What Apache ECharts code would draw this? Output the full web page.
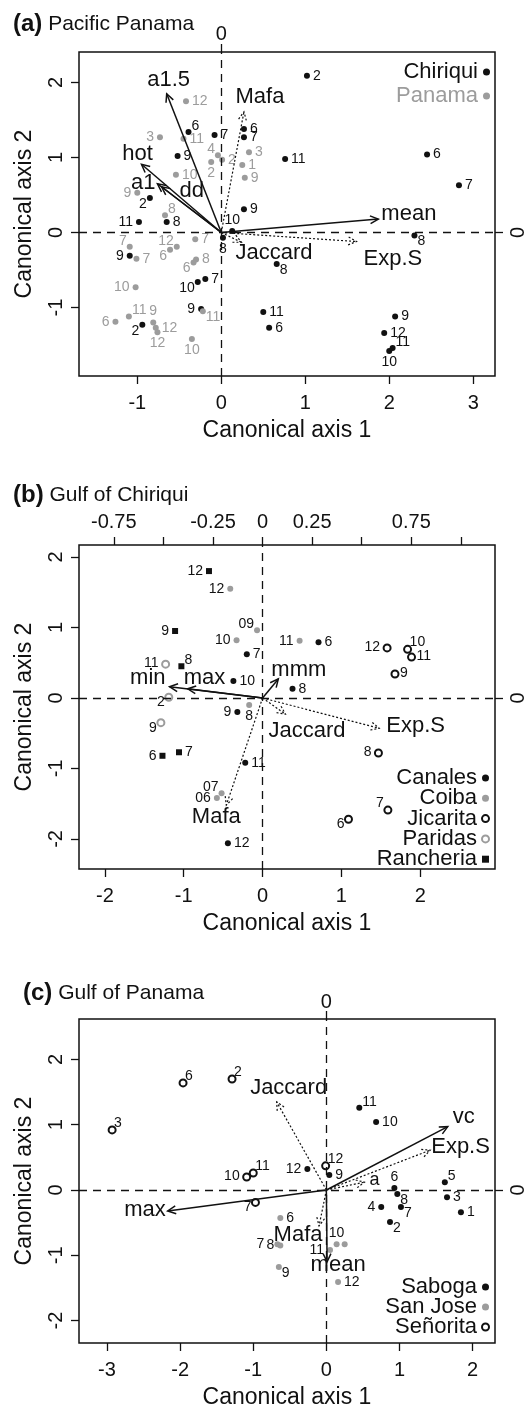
<!DOCTYPE html>
<html><head><meta charset="utf-8">
<script src="https://cdn.jsdelivr.net/npm/echarts@6/dist/echarts.min.js"></script>
<style>html,body{margin:0;padding:0;background:#fff}#c{width:528px;height:1412px}</style>
</head><body><div id="c"></div>
<script>
// ---------- Panel (a) Pacific Panama ----------
const aChiX = [1.02,-0.39,-0.08,-0.52,0.27,0.27,0.76,-0.85,0.27,-0.98,-0.65,0.13,0.02,-1.09,-0.28,-0.19,-0.24,-0.94,2.45,2.83,2.30,0.66,0.50,0.57,2.07,1.94,2.04,2.00];
const aChiY = [2.09,1.34,1.30,1.02,1.38,1.27,0.98,0.46,0.31,0.14,0.14,0.02,-0.07,-0.31,-0.66,-0.62,-1.02,-1.23,1.04,0.63,-0.04,-0.42,-1.06,-1.27,-1.12,-1.34,-1.54,-1.58];
const aChiM = ['2','6','7','9','6','7','11','2','9','11','8','10','8','9','10','7','9','2','6','7','8','8','11','6','9','12','11','10'];
const aPanX = [-0.42,-0.73,-0.45,-0.04,0.01,-0.12,-0.54,0.33,0.25,0.28,-1.00,-0.67,-1.09,-1.01,-0.53,-0.61,-0.31,-0.30,-0.33,-1.02,-0.22,-1.10,-1.26,-0.81,-0.78,-0.76,-0.35];
const aPanY = [1.75,1.27,1.25,1.03,0.97,0.94,0.77,1.07,0.90,0.73,0.53,0.23,-0.19,-0.35,-0.19,-0.23,-0.09,-0.36,-0.40,-0.73,-1.05,-1.12,-1.19,-1.20,-1.27,-1.33,-1.42];
const aPanM = ['12','3','11','4','2','2','10','3','1','9','9','8','7','7','12','6','7','8','6','10','11','11','6','9','12','12','10'];
const aArrowNames = ['a1.5','hot','a1','dd','mean','Mafa','Exp.S','Jaccard'];
const aArrowX = [-0.65,-0.95,-0.76,-0.71,1.87,0.27,1.61,0.24];
const aArrowY = [1.85,0.91,0.65,0.61,0.18,1.61,-0.12,-0.13];
const aArrowKind = ['solid','solid','solid','solid','solid','dotted','dotted','dotted'];
const aXTicks = [-1,0,1,2,3];
const aYTicks = [-1,0,1,2];

// ---------- Panel (b) Gulf of Chiriqui ----------
const bCanX = [0.71,-0.20,-0.37,0.38,-0.32,-0.22,-0.44];
const bCanY = [0.79,0.62,0.24,0.13,-0.20,-0.92,-2.06];
const bCanM = ['6','7','10','8','9','11','12'];
const bCoiX = [-0.41,-0.07,-0.33,0.47,-0.17,-0.52,-0.58];
const bCoiY = [1.55,0.96,0.82,0.81,-0.10,-1.35,-1.42];
const bCoiM = ['12','09','10','11','8','07','06'];
const bJicX = [1.58,1.84,1.89,1.68,1.47,1.59,1.09];
const bJicY = [0.71,0.69,0.58,0.34,-0.78,-1.59,-1.72];
const bJicM = ['12','10','11','9','8','7','6'];
const bParX = [-1.23,-1.19,-1.29];
const bParY = [0.48,0.01,-0.35];
const bParM = ['11','2','9'];
const bRanX = [-0.68,-1.11,-1.03,-1.27,-1.06];
const bRanY = [1.80,0.95,0.45,-0.82,-0.77];
const bRanM = ['12','9','8','6','7'];
const bArrowNames = ['min','max','mmm','Jaccard','Exp.S','Mafa'];
const bArrowX = [-1.18,-0.95,0.20,0.29,1.48,-0.46];
const bArrowY = [0.16,0.13,0.27,-0.23,-0.43,-1.52];
const bArrowKind = ['solid','solid','solid','dotted','dotted','dotted'];
const bXTicks = [-2,-1,0,1,2];
const bYTicks = [-2,-1,0,1,2];
const bTopTicks = [-0.75,-0.5,-0.25,0,0.25,0.5,0.75,1];
const bTopLabels = [-0.75,-0.25,0,0.25,0.75];

// ---------- Panel (c) Gulf of Panama ----------
const cSabX = [0.45,0.68,-0.26,0.04,1.62,0.93,0.97,1.65,0.75,1.02,1.84,0.87];
const cSabY = [1.26,1.04,0.32,0.23,0.12,0.03,-0.06,-0.11,-0.26,-0.26,-0.34,-0.49];
const cSabM = ['11','10','12','9','5','6','8','3','4','7','1','2'];
const cSjoX = [-0.63,-0.67,-0.63,0.05,0.14,0.25,-0.65,0.16];
const cSjoY = [-0.43,-0.83,-0.85,-0.92,-0.83,-0.83,-1.18,-1.41];
const cSjoM = ['6','7','8','11','10','','9','12'];
const cSenX = [-1.96,-1.29,-2.93,-0.01,-1.09,-1.00,-0.97];
const cSenY = [1.64,1.70,0.92,0.37,0.20,0.26,-0.19];
const cSenM = ['6','2','3','12','10','11','7'];
const cArrowNames = ['vc','max','mean','Jaccard','Exp.S','a','Mafa'];
const cArrowX = [1.66,-2.17,0.01,-0.68,1.42,0.52,-0.10];
const cArrowY = [0.97,-0.32,-1.10,1.35,0.61,0.12,-0.55];
const cArrowKind = ['solid','solid','solid','dotted','dotted','dotted','dotted'];
const cXTicks = [-3,-2,-1,0,1,2];
const cYTicks = [-2,-1,0,1,2];

// ---------- styling (label sides / offsets) ----------
const aChiSide = ['r','tr','r','r','r','r','r','bl','r','l','r','t','b','l','bl','r','l','bl','r','r','br','br','r','r','r','r','tr','b'];
const aPanSide = ['r','l','r','tl','r','b','r','r','r','r','l','tr','tl','r','tl','bl','r','r','bl','l','br','tr','l','t','r','b','b'];
const aArrowLab = [[2,-14,'center'],[-4,-10,'center'],[-2,-1,'right'],[30,4,'center'],[3,-5,'left'],[16,-15,'center'],[7,17,'left'],[-6,11,'left']];
const bCanSide = ['r','r','r','r','l','r','r'];
const bCoiSide = ['l','tl','l','l','b','tl','l'];
const bJicSide = ['l','tr','r','r','l','tl','bl'];
const bParSide = ['l','bl','bl'];
const bRanSide = ['l','l','tr','l','r'];
const bArrowLab = [[-4,-9,'right'],[-4,-11,'left'],[-7,-9,'left'],[-17,17,'left'],[7,-2,'left'],[-10,12,'center']];
const cSabSide = ['tr','r','l','r','tr','t','br','r','l','br','r','br'];
const cSjoSide = ['r','ll','l','l','t','r','br','r'];
const cSenSide = ['tr','tr','tr','tr','l','tr','bl'];
const cArrowLab = [[5,-10,'left'],[-2,-1,'right'],[11,3,'center'],[12,-14,'center'],[1,-3,'left'],[5,-2,'left',18],[-21,9,'center']];

const FONT = '"Liberation Sans", Arial, Helvetica, sans-serif';
const BLACK = '#111';
const GREY = '#9c9c9c';

function sideLabel(code, s) {
  const c = s / 2;
  const m = {
    r:  {position:[c+6, c], align:'left', verticalAlign:'middle'},
    l:  {position:[c-6, c], align:'right', verticalAlign:'middle'},
    ll: {position:[c-13, c], align:'right', verticalAlign:'middle'},
    t:  {position:[c, c-4], align:'center', verticalAlign:'bottom'},
    b:  {position:[c, c+4], align:'center', verticalAlign:'top'},
    tr: {position:[c+3, c+1], align:'left', verticalAlign:'bottom'},
    tl: {position:[c-3, c+1], align:'right', verticalAlign:'bottom'},
    br: {position:[c+3, c-1], align:'left', verticalAlign:'top'},
    bl: {position:[c-3, c-1], align:'right', verticalAlign:'top'}
  };
  return m[code];
}

function scatter(name, gi, xs, ys, ms, sides, symbol, size, color, labelColor, withZero) {
  const empty = symbol === 'emptyCircle';
  const s = {
    type:'scatter', name, xAxisIndex: gi*2, yAxisIndex: gi*2,
    symbol, symbolSize: size, z: 4, animation:false, silent:true,
    itemStyle:{color, borderColor: color, borderWidth: empty ? 0.9 : 0, opacity:1},
    label:{show:true, formatter: p => p.value[2], fontSize:14, color:labelColor, fontFamily:FONT},
    data: xs.map((x,i)=>({value:[x, ys[i], ms[i]], label: sideLabel(sides[i], size)}))
  };
  if (withZero) {
    s.markLine = {silent:true, animation:false, symbol:['none','none'], label:{show:false},
      lineStyle:{color:BLACK, type:[8,6], width:1.3},
      emphasis:{disabled:true},
      data:[{xAxis:0},{yAxis:0}]};
  }
  return s;
}

function arrows(gi, names, xs, ys, kinds, labs) {
  return {
    type:'custom', xAxisIndex: gi*2, yAxisIndex: gi*2, z:6, silent:true, animation:false, clip:false,
    encode:{x:0, y:1},
    data: xs.map((x,i)=>[x, ys[i], i]),
    renderItem: (params, api) => {
      const i = api.value(2);
      const o = api.coord([0,0]);
      const t = api.coord([api.value(0), api.value(1)]);
      const ang = Math.atan2(t[1]-o[1], t[0]-o[0]);
      const L = 9, A = Math.PI/7;
      const dotted = kinds[i] === 'dotted';
      const dash = dotted ? [2,2] : null;
      const w = dotted ? 1.2 : 1.5;
      const lab = labs[i];
      return {type:'group', children:[
        {type:'line', shape:{x1:o[0], y1:o[1], x2:t[0], y2:t[1]}, style:{stroke:BLACK, lineWidth:w, lineDash:dash}},
        {type:'polyline', shape:{points:[[t[0]-L*Math.cos(ang-A), t[1]-L*Math.sin(ang-A)], [t[0], t[1]], [t[0]-L*Math.cos(ang+A), t[1]-L*Math.sin(ang+A)]]},
          style:{stroke:BLACK, fill:null, lineWidth:w, lineDash:dash}},
        {type:'text', x:t[0]+lab[0], y:t[1]+lab[1], style:{text:names[i], fill:BLACK, fontSize: lab[3]||22, fontFamily:FONT, align:lab[2], verticalAlign:'middle'}}
      ]};
    }
  };
}

const tick = {show:true, length:8, lineStyle:{color:BLACK, width:1.3}};
function axis(gi, pos, min, max, ticks, labels, margin, extra) {
  return Object.assign({
    type:'value', gridIndex: gi, position: pos, min, max,
    axisLine:{show:false, onZero:false}, splitLine:{show:false},
    axisTick: Object.assign({customValues: ticks}, tick),
    axisLabel: {customValues: labels, color: BLACK, fontSize: 20, fontFamily: FONT, margin,
      formatter: v => String(v)}
  }, extra || {});
}
const xName = {name:'Canonical axis 1', nameLocation:'middle', nameGap:43, nameTextStyle:{fontSize:23, color:BLACK, fontFamily:FONT}};
const yName = {name:'Canonical axis 2', nameLocation:'middle', nameGap:43, nameTextStyle:{fontSize:23, color:BLACK, fontFamily:FONT}};
function yRot(o){ o.axisLabel.rotate = 90; return o; }

const grids = [
  {left:79, top:52, width:421, height:324},
  {left:79, top:545, width:417, height:324},
  {left:79, top:1019, width:417, height:324}
].map(g => Object.assign(g, {show:true, borderColor:BLACK, borderWidth:1.5, backgroundColor:'transparent', containLabel:false}));

const aX = [-1.694, 3.259], aY = [-1.913, 2.407];
const bX = [-2.329, 2.949], bY = [-2.426, 2.170], bTop = [-0.9256, 1.172];
const cX = [-3.383, 2.306], cY = [-2.343, 2.619];

const xAxes = [
  axis(0,'bottom',aX[0],aX[1],aXTicks,aXTicks,17,xName),
  axis(0,'top',aX[0],aX[1],[0],[0],8),
  axis(1,'bottom',bX[0],bX[1],bXTicks,bXTicks,17,xName),
  axis(1,'top',bTop[0],bTop[1],bTopTicks,bTopLabels,13),
  axis(2,'bottom',cX[0],cX[1],cXTicks,cXTicks,17,xName),
  axis(2,'top',cX[0],cX[1],[0],[0],7)
];
const yAxes = [
  yRot(axis(0,'left',aY[0],aY[1],aYTicks,aYTicks,13,yName)),
  yRot(axis(0,'right',aY[0],aY[1],[0],[0],13)),
  yRot(axis(1,'left',bY[0],bY[1],bYTicks,bYTicks,13,yName)),
  yRot(axis(1,'right',bY[0],bY[1],[0],[0],13)),
  yRot(axis(2,'left',cY[0],cY[1],cYTicks,cYTicks,13,yName)),
  yRot(axis(2,'right',cY[0],cY[1],[0],[0],13))
];

const series = [
  scatter('Chiriqui',0,aChiX,aChiY,aChiM,aChiSide,'circle',6,BLACK,BLACK,true),
  scatter('Panama',0,aPanX,aPanY,aPanM,aPanSide,'circle',6,GREY,GREY,false),
  arrows(0,aArrowNames,aArrowX,aArrowY,aArrowKind,aArrowLab),
  scatter('Canales',1,bCanX,bCanY,bCanM,bCanSide,'circle',6,BLACK,BLACK,true),
  scatter('Coiba',1,bCoiX,bCoiY,bCoiM,bCoiSide,'circle',6,GREY,BLACK,false),
  scatter('Jicarita',1,bJicX,bJicY,bJicM,bJicSide,'emptyCircle',7,BLACK,BLACK,false),
  scatter('Paridas',1,bParX,bParY,bParM,bParSide,'emptyCircle',7,GREY,BLACK,false),
  scatter('Rancheria',1,bRanX,bRanY,bRanM,bRanSide,'rect',6,BLACK,BLACK,false),
  arrows(1,bArrowNames,bArrowX,bArrowY,bArrowKind,bArrowLab),
  scatter('Saboga',2,cSabX,cSabY,cSabM,cSabSide,'circle',6,BLACK,BLACK,true),
  scatter('San Jose',2,cSjoX,cSjoY,cSjoM,cSjoSide,'circle',6,GREY,BLACK,false),
  scatter('Señorita',2,cSenX,cSenY,cSenM,cSenSide,'emptyCircle',7,BLACK,BLACK,false),
  arrows(2,cArrowNames,cArrowX,cArrowY,cArrowKind,cArrowLab)
];

const legendBase = {orient:'vertical', align:'right', itemWidth:7, itemHeight:7, padding:0, selectedMode:false,
  textStyle:{fontSize:22, color:BLACK, fontFamily:FONT, lineHeight:20}};
const legends = [
  Object.assign({}, legendBase, {right:38, top:61, itemGap:2, data:[{name:'Chiriqui'},{name:'Panama', textStyle:{color:GREY}}]}),
  Object.assign({}, legendBase, {right:38, top:767, itemGap:-1.7, data:['Canales','Coiba','Jicarita','Paridas','Rancheria']}),
  Object.assign({}, legendBase, {right:38, top:1276, itemGap:-2, data:['Saboga','San Jose','Señorita']})
];

function title(tag, text, left, top) {
  return {text:'{b|' + tag + '} ' + text, left, top, padding:0,
    textStyle:{fontSize:21, fontWeight:'normal', color:BLACK, fontFamily:FONT,
      rich:{b:{fontSize:24, fontWeight:'bold', color:BLACK, fontFamily:FONT}}}};
}

const chart = echarts.init(document.getElementById('c'), null, {renderer:'canvas'});
chart.setOption({
  animation:false,
  backgroundColor:'#fff',
  textStyle:{fontFamily:FONT},
  title:[title('(a)','Pacific Panama',13,12), title('(b)','Gulf of Chiriqui',13,483), title('(c)','Gulf of Panama',23,981)],
  legend: legends,
  grid: grids,
  xAxis: xAxes,
  yAxis: yAxes,
  series
});
</script></body></html>
